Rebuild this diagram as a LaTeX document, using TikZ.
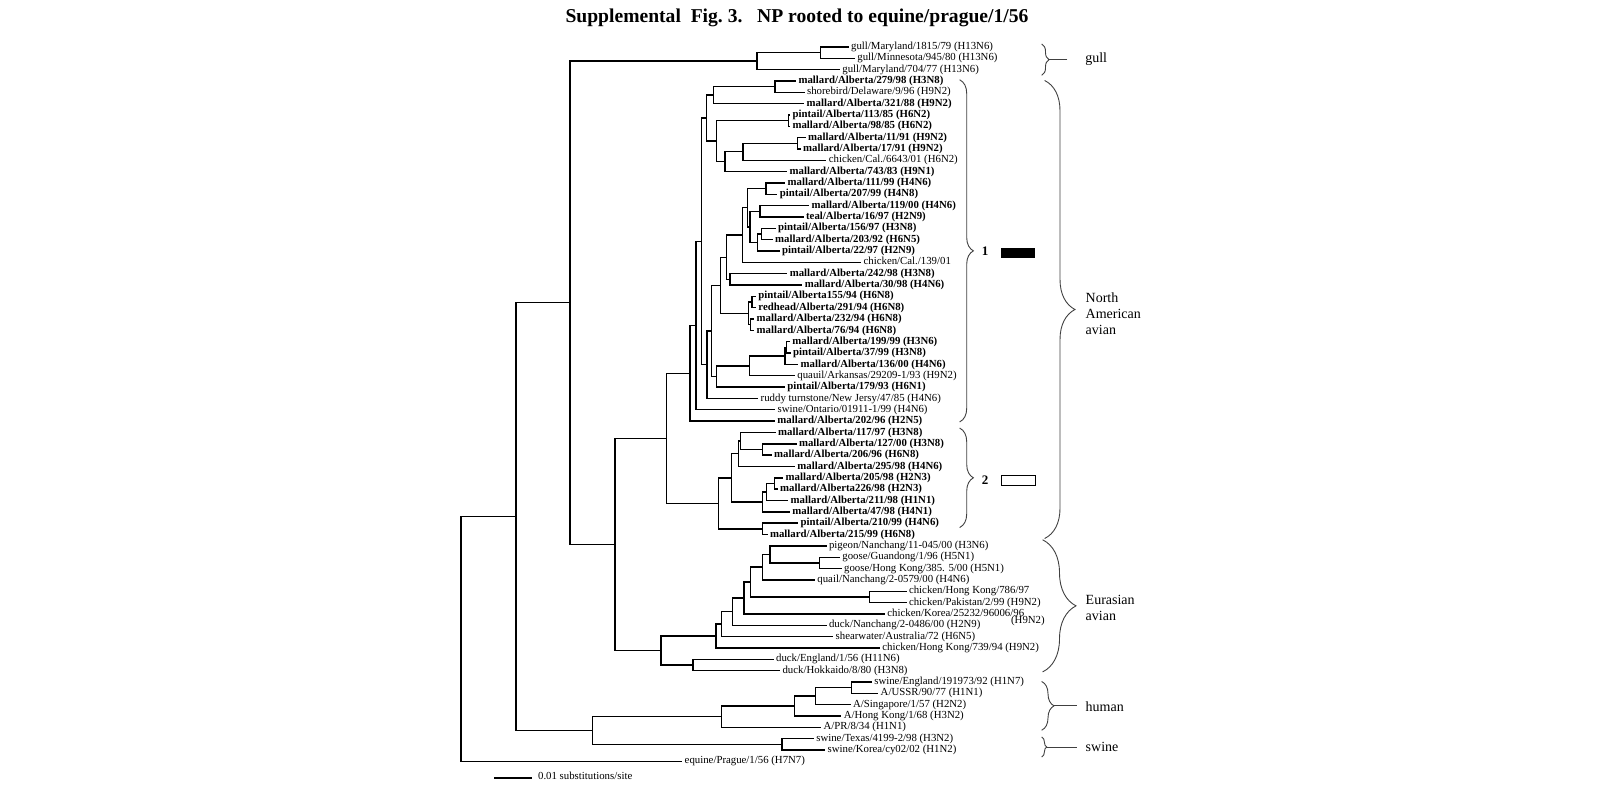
\documentclass[tikz,border=0pt]{standalone}
\usepackage{fontspec}
\setmainfont{Liberation Serif}
\usetikzlibrary{decorations.pathreplacing}
\newcommand\leafy[1]{46.9+11.34*(#1-1)}
\tikzset{
  leaf/.style={anchor=west, inner sep=1.2pt, text height=3.8pt, text depth=1.2pt,
    font=\fontsize{5.4}{6}\selectfont},
  bleaf/.style={leaf, font=\fontsize{5.4}{6}\selectfont\bfseries},
  grp/.style={anchor=west, align=left, inner sep=0pt, font=\fontsize{7}{8}\selectfont},
  curly/.style={decorate, decoration={brace, amplitude=#1}, line width=0.45pt, black!75},
  tail/.style={line width=0.45pt, black!75},
}
\begin{document}
\begin{tikzpicture}[x=0.5pt, y=-0.5pt, line width=0.7pt, line cap=rect]
  \useasboundingbox (0,0) rectangle (1600,787);
  \node[font=\fontsize{9.8}{12}\selectfont\bfseries] (title) at (797,18)
    {Supplemental\ \ Fig.~3.\ \ \ NP rooted to equine/prague/1/56};

  % leaves
  \node[leaf]  (l1)  at (848,{\leafy{1}})   {gull/Maryland/1815/79 (H13N6)};
  \node[leaf]  (l2)  at (854.3,{\leafy{2}}) {gull/Minnesota/945/80 (H13N6)};
  \node[leaf]  (l3)  at (839.3,{\leafy{3}}) {gull/Maryland/704/77 (H13N6)};
  \node[bleaf] (l4)  at (795.4,{\leafy{4}}) {mallard/Alberta/279/98 (H3N8)};
  \node[leaf]  (l5)  at (804,{\leafy{5}})   {shorebird/Delaware/9/96 (H9N2)};
  \node[bleaf] (l6)  at (803.6,{\leafy{6}}) {mallard/Alberta/321/88 (H9N2)};
  \node[bleaf] (l7)  at (789.4,{\leafy{7}}) {pintail/Alberta/113/85 (H6N2)};
  \node[bleaf] (l8)  at (789.4,{\leafy{8}}) {mallard/Alberta/98/85 (H6N2)};
  \node[bleaf] (l9)  at (805,{\leafy{9}})   {mallard/Alberta/11/91 (H9N2)};
  \node[bleaf] (l10) at (800,{\leafy{10}})  {mallard/Alberta/17/91 (H9N2)};
  \node[leaf]  (l11) at (825.7,{\leafy{11}}) {chicken/Cal./6643/01 (H6N2)};
  \node[bleaf] (l12) at (786.5,{\leafy{12}}) {mallard/Alberta/743/83 (H9N1)};
  \node[bleaf] (l13) at (784.5,{\leafy{13}}) {mallard/Alberta/111/99 (H4N6)};
  \node[bleaf] (l14) at (776.7,{\leafy{14}}) {pintail/Alberta/207/99 (H4N8)};
  \node[bleaf] (l15) at (808.5,{\leafy{15}}) {mallard/Alberta/119/00 (H4N6)};
  \node[bleaf] (l16) at (803,{\leafy{16}})   {teal/Alberta/16/97 (H2N9)};
  \node[bleaf] (l17) at (775,{\leafy{17}})   {pintail/Alberta/156/97 (H3N8)};
  \node[bleaf] (l18) at (772,{\leafy{18}})   {mallard/Alberta/203/92 (H6N5)};
  \node[bleaf] (l19) at (779,{\leafy{19}})   {pintail/Alberta/22/97 (H2N9)};
  \node[leaf]  (l20) at (860.5,{\leafy{20}}) {chicken/Cal./139/01};
  \node[bleaf] (l21) at (786.7,{\leafy{21}}) {mallard/Alberta/242/98 (H3N8)};
  \node[bleaf] (l22) at (801.7,{\leafy{22}}) {mallard/Alberta/30/98 (H4N6)};
  \node[bleaf] (l23) at (755.3,{\leafy{23}}) {pintail/Alberta155/94 (H6N8)};
  \node[bleaf] (l24) at (755.3,{\leafy{24}}) {redhead/Alberta/291/94 (H6N8)};
  \node[bleaf] (l25) at (753.6,{\leafy{25}}) {mallard/Alberta/232/94 (H6N8)};
  \node[bleaf] (l26) at (753.6,{\leafy{26}}) {mallard/Alberta/76/94 (H6N8)};
  \node[bleaf] (l27) at (789.3,{\leafy{27}}) {mallard/Alberta/199/99 (H3N6)};
  \node[bleaf] (l28) at (789.9,{\leafy{28}}) {pintail/Alberta/37/99 (H3N8)};
  \node[bleaf] (l29) at (797.6,{\leafy{29}}) {mallard/Alberta/136/00 (H4N6)};
  \node[leaf]  (l30) at (794.3,{\leafy{30}}) {quauil/Arkansas/29209-1/93 (H9N2)};
  \node[bleaf] (l31) at (784.3,{\leafy{31}}) {pintail/Alberta/179/93 (H6N1)};
  \node[leaf]  (l32) at (757.6,{\leafy{32}}) {ruddy turnstone/New Jersy/47/85 (H4N6)};
  \node[leaf]  (l33) at (774.6,{\leafy{33}}) {swine/Ontario/01911-1/99 (H4N6)};
  \node[bleaf] (l34) at (774.3,{\leafy{34}}) {mallard/Alberta/202/96 (H2N5)};
  \node[bleaf] (l35) at (775,{\leafy{35}})   {mallard/Alberta/117/97 (H3N8)};
  \node[bleaf] (l36) at (795.9,{\leafy{36}}) {mallard/Alberta/127/00 (H3N8)};
  \node[bleaf] (l37) at (771,{\leafy{37}})   {mallard/Alberta/206/96 (H6N8)};
  \node[bleaf] (l38) at (794.3,{\leafy{38}}) {mallard/Alberta/295/98 (H4N6)};
  \node[bleaf] (l39) at (782.6,{\leafy{39}}) {mallard/Alberta/205/98 (H2N3)};
  \node[bleaf] (l40) at (777,{\leafy{40}})   {mallard/Alberta226/98 (H2N3)};
  \node[bleaf] (l41) at (787.6,{\leafy{41}}) {mallard/Alberta/211/98 (H1N1)};
  \node[bleaf] (l42) at (789.3,{\leafy{42}}) {mallard/Alberta/47/98 (H4N1)};
  \node[bleaf] (l43) at (797.6,{\leafy{43}}) {pintail/Alberta/210/99 (H4N6)};
  \node[bleaf] (l44) at (766.9,{\leafy{44}}) {mallard/Alberta/215/99 (H6N8)};
  \node[leaf]  (l45) at (825.9,{\leafy{45}}) {pigeon/Nanchang/11-045/00 (H3N6)};
  \node[leaf]  (l46) at (839.3,{\leafy{46}}) {goose/Guandong/1/96 (H5N1)};
  \node[leaf]  (l47) at (841,{\leafy{47}})   {goose/Hong Kong/385. 5/00 (H5N1)};
  \node[leaf]  (l48) at (814.3,{\leafy{48}}) {quail/Nanchang/2-0579/00 (H4N6)};
  \node[leaf]  (l49) at (905.9,{\leafy{49}}) {chicken/Hong Kong/786/97};
  \node[leaf]  (l50) at (905.9,{\leafy{50}}) {chicken/Pakistan/2/99 (H9N2)};
  \node[leaf]  (l51) at (884.3,{\leafy{51}}) {chicken/Korea/25232/96006/96};
  \node[leaf]  (l51s) at (1008,621)          {(H9N2)};
  \node[leaf]  (l52) at (825.9,{\leafy{52}}) {duck/Nanchang/2-0486/00 (H2N9)};
  \node[leaf]  (l53) at (832.6,{\leafy{53}}) {shearwater/Australia/72 (H6N5)};
  \node[leaf]  (l54) at (879.3,{\leafy{54}}) {chicken/Hong Kong/739/94 (H9N2)};
  \node[leaf]  (l55) at (773,{\leafy{55}})   {duck/England/1/56 (H11N6)};
  \node[leaf]  (l56) at (779.4,{\leafy{56}}) {duck/Hokkaido/8/80 (H3N8)};
  \node[leaf]  (l57) at (871.2,{\leafy{57}}) {swine/England/191973/92 (H1N7)};
  \node[leaf]  (l58) at (877.6,{\leafy{58}}) {A/USSR/90/77 (H1N1)};
  \node[leaf]  (l59) at (850,{\leafy{59}})   {A/Singapore/1/57 (H2N2)};
  \node[leaf]  (l60) at (840.7,{\leafy{60}}) {A/Hong Kong/1/68 (H3N2)};
  \node[leaf]  (l61) at (820.4,{\leafy{61}}) {A/PR/8/34 (H1N1)};
  \node[leaf]  (l62) at (813.2,{\leafy{62}}) {swine/Texas/4199-2/98 (H3N2)};
  \node[leaf]  (l63) at (824.6,{\leafy{63}}) {swine/Korea/cy02/02 (H1N2)};
  \node[leaf]  (l64) at (681.6,{\leafy{64}}) {equine/Prague/1/56 (H7N7)};

  % inner nodes, y as a fractional leaf index
  \coordinate (root) at (461,{\leafy{53.21}});
  \coordinate (A)    at (516,{\leafy{42.42}});
  \coordinate (B)    at (570,{\leafy{23.56}});
  \coordinate (gull) at (756.8,{\leafy{2.25}});
  \coordinate (g12)  at (820.4,{\leafy{1.5}});
  \coordinate (C)    at (615,{\leafy{44.87}});
  \coordinate (NA)   at (666.7,{\leafy{35.52}});
  \coordinate (E)    at (690,{\leafy{29.79}});
  \coordinate (F)    at (696,{\leafy{25.575}});
  \coordinate (G)    at (701.7,{\leafy{18.15}});
  \coordinate (n4)   at (706.7,{\leafy{7.281}});
  \coordinate (n5)   at (713.2,{\leafy{5.25}});
  \coordinate (n45)  at (775,{\leafy{4.5}});
  \coordinate (n7)   at (716.7,{\leafy{9.3125}});
  \coordinate (n78)  at (788.2,{\leafy{7.5}});
  \coordinate (n9)   at (724.8,{\leafy{11.125}});
  \coordinate (n9a)  at (742.9,{\leafy{10.25}});
  \coordinate (n910) at (797.5,{\leafy{9.5}});
  \coordinate (H)    at (707,{\leafy{29.02}});
  \coordinate (X)    at (711.7,{\leafy{26.043}});
  \coordinate (n13)  at (720.7,{\leafy{22.023}});
  \coordinate (n13b) at (726.7,{\leafy{19.547}});
  \coordinate (n13c) at (742.7,{\leafy{17.594}});
  \coordinate (n13d) at (747.3,{\leafy{15.1875}});
  \coordinate (n1314) at (766,{\leafy{13.5}});
  \coordinate (n15)  at (750,{\leafy{16.875}});
  \coordinate (n1516) at (760,{\leafy{15.5}});
  \coordinate (n17)  at (757.3,{\leafy{18.25}});
  \coordinate (n1718) at (761.7,{\leafy{17.5}});
  \coordinate (n2122) at (730,{\leafy{21.5}});
  \coordinate (n23)  at (748.5,{\leafy{24.5}});
  \coordinate (n2324) at (752,{\leafy{23.5}});
  \coordinate (n2526) at (750.5,{\leafy{25.5}});
  \coordinate (H1)   at (716.7,{\leafy{30.0625}});
  \coordinate (H2)   at (749.3,{\leafy{29.125}});
  \coordinate (H3)   at (785,{\leafy{28.25}});
  \coordinate (H4)   at (786.7,{\leafy{27.5}});
  \coordinate (cl2)  at (718.3,{\leafy{41.25}});
  \coordinate (n35)  at (731.7,{\leafy{39}});
  \coordinate (n35b) at (738.5,{\leafy{36.875}});
  \coordinate (n35c) at (740.5,{\leafy{35.75}});
  \coordinate (n3637) at (762.7,{\leafy{36.5}});
  \coordinate (n39)  at (762.7,{\leafy{41.125}});
  \coordinate (n39b) at (766.7,{\leafy{40.25}});
  \coordinate (n3940) at (774.3,{\leafy{39.5}});
  \coordinate (n4344) at (762.7,{\leafy{43.5}});
  \coordinate (EU)   at (661,{\leafy{54.22}});
  \coordinate (EUa)  at (716,{\leafy{52.95}});
  \coordinate (EUc)  at (721.7,{\leafy{51.9}});
  \coordinate (EUd)  at (732.7,{\leafy{50.8}});
  \coordinate (EUe)  at (744,{\leafy{49.59}});
  \coordinate (EUf)  at (750.7,{\leafy{48.1875}});
  \coordinate (EUg)  at (762.7,{\leafy{46.875}});
  \coordinate (EUh)  at (770,{\leafy{45.75}});
  \coordinate (n4647) at (819.3,{\leafy{46.5}});
  \coordinate (n4950) at (869.3,{\leafy{49.5}});
  \coordinate (EUb)  at (693,{\leafy{55.5}});
  \coordinate (HS)   at (592.3,{\leafy{61.28}});
  \coordinate (hum)  at (721.3,{\leafy{60.06}});
  \coordinate (hum4) at (794.5,{\leafy{59.125}});
  \coordinate (hum3) at (815.6,{\leafy{58.25}});
  \coordinate (hum2) at (851.2,{\leafy{57.5}});
  \coordinate (sw)   at (781.8,{\leafy{62.5}});

  % branches
  \foreach \p/\c in {root/A, root/l64, A/B, A/HS, B/gull, B/C, gull/g12, gull/l3,
      g12/l1, g12/l2, C/NA, C/EU, NA/E, NA/cl2, E/F, E/l34, F/G, F/l33, G/n4, G/H,
      n4/n5, n4/n7, n5/n45, n5/l6, n45/l4, n45/l5, n7/n78, n7/n9, n78/l7, n78/l8,
      n9/n9a, n9/l12, n9a/n910, n9a/l11, n910/l9, n910/l10, H/X, H/l32, X/n13, X/H1,
      n13/n13b, n13/n23, n13b/n13c, n13b/n2122, n13c/n13d, n13c/l20, n13d/n1314,
      n13d/n15, n1314/l13, n1314/l14, n15/n1516, n15/n17, n1516/l15, n1516/l16,
      n17/n1718, n17/l19, n1718/l17, n1718/l18, n2122/l21, n2122/l22, n23/n2324,
      n23/n2526, n2324/l23, n2324/l24, n2526/l25, n2526/l26, H1/H2, H1/l31, H2/H3,
      H2/l30, H3/H4, H3/l29, H4/l27, H4/l28, cl2/n35, cl2/n4344, n35/n35b, n35/n39,
      n35b/n35c, n35b/l38, n35c/l35, n35c/n3637, n3637/l36, n3637/l37, n39/n39b,
      n39/l42, n39b/n3940, n39b/l41, n3940/l39, n3940/l40, n4344/l43, n4344/l44,
      EU/EUa, EU/EUb, EUa/EUc, EUa/l54, EUc/EUd, EUc/l53, EUd/EUe, EUd/l52, EUe/EUf,
      EUe/l51, EUf/EUg, EUf/n4950, EUg/EUh, EUg/l48, EUh/l45, EUh/n4647, n4647/l46,
      n4647/l47, n4950/l49, n4950/l50, EUb/l55, EUb/l56, HS/hum, HS/sw, hum/hum4,
      hum/l61, hum4/hum3, hum4/l60, hum3/hum2, hum3/l59, hum2/l57, hum2/l58,
      sw/l62, sw/l63}
    \draw (\p) |- (\c);

  % scale bar
  \coordinate (sb0) at (495,778);
  \coordinate (sb1) at (531,778);
  \draw (sb0) -- (sb1);
  \node[leaf] (sblab) at (535,777) {0.01 substitutions/site};

  % brackets
  \draw[curly=3.5pt] (1042,44.3) -- (1042,75);
  \coordinate (gullTip) at (1049,59.6);
  \coordinate (gullEnd) at (1067,59.6);
  \draw[tail] (gullTip) -- (gullEnd);
  \node[grp] (gullLab) at (1084.6,59.6) {gull};

  \draw[curly=6.7pt] (960,80) -- (960,421.7);
  \node[font=\fontsize{6.5}{7}\selectfont\bfseries] (one) at (985,251.7) {1};
  \fill (1001,247.7) rectangle (1035.3,257.7);
  \draw[curly=6.7pt] (960,428.3) -- (960,527.3);
  \node[font=\fontsize{6.5}{7}\selectfont\bfseries] (two) at (985,480) {2};
  \draw[line width=0.5pt] (1001,475) rectangle (1035.3,485.7);

  \draw[curly=15pt] (1045,80.7) -- (1045,538.3);
  \node[grp] (naLab) at (1085,314) {North\\American\\avian};
  \draw[curly=16.5pt] (1043,540) -- (1043,671.7);
  \node[grp] (euLab) at (1085,607.5) {Eurasian\\avian};

  \draw[curly=6pt] (1042,681.7) -- (1042,730);
  \coordinate (humTip) at (1054,705.9);
  \coordinate (humEnd) at (1076.7,705.9);
  \draw[tail] (humTip) -- (humEnd);
  \node[grp] (humLab) at (1085,706.7) {human};
  \draw[curly=2.4pt] (1042,737.3) -- (1042,756.7);
  \coordinate (swTip) at (1046.8,747);
  \coordinate (swEnd) at (1076.7,747);
  \draw[tail] (swTip) -- (swEnd);
  \node[grp] (swLab) at (1085,746.7) {swine};
\end{tikzpicture}
\end{document}
